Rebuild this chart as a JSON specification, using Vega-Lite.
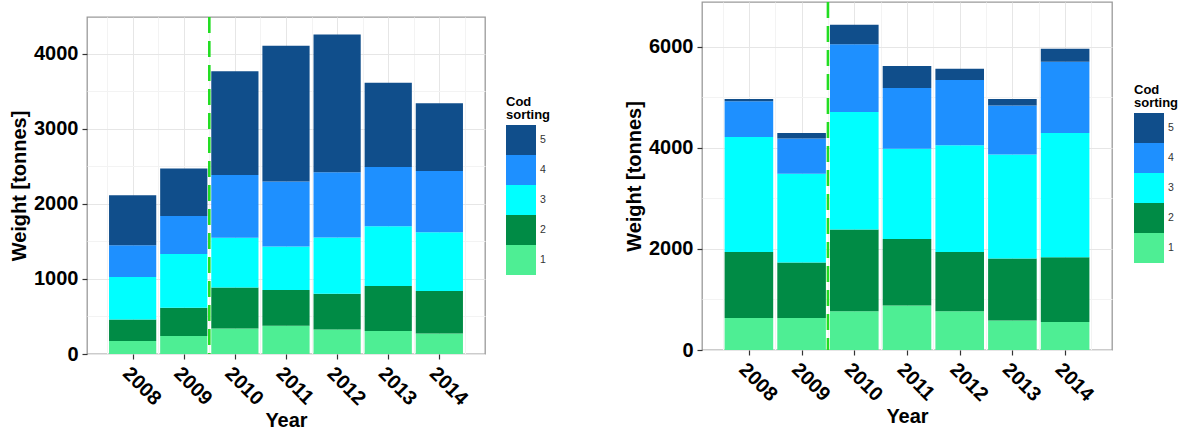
{
  "$schema": "https://vega.github.io/schema/vega-lite/v6.json",
  "background": "white",
  "padding": {"left": 8, "top": 0, "right": 0, "bottom": 0},
  "datasets": {
    "landings_a": [
      {"year": 2008, "sorting": 1, "weight": 173}, {"year": 2008, "sorting": 2, "weight": 287}, {"year": 2008, "sorting": 3, "weight": 565}, {"year": 2008, "sorting": 4, "weight": 425}, {"year": 2008, "sorting": 5, "weight": 666},
      {"year": 2009, "sorting": 1, "weight": 240}, {"year": 2009, "sorting": 2, "weight": 376}, {"year": 2009, "sorting": 3, "weight": 715}, {"year": 2009, "sorting": 4, "weight": 509}, {"year": 2009, "sorting": 5, "weight": 630},
      {"year": 2010, "sorting": 1, "weight": 341}, {"year": 2010, "sorting": 2, "weight": 545}, {"year": 2010, "sorting": 3, "weight": 662}, {"year": 2010, "sorting": 4, "weight": 838}, {"year": 2010, "sorting": 5, "weight": 1380},
      {"year": 2011, "sorting": 1, "weight": 377}, {"year": 2011, "sorting": 2, "weight": 475}, {"year": 2011, "sorting": 3, "weight": 580}, {"year": 2011, "sorting": 4, "weight": 865}, {"year": 2011, "sorting": 5, "weight": 1810},
      {"year": 2012, "sorting": 1, "weight": 327}, {"year": 2012, "sorting": 2, "weight": 475}, {"year": 2012, "sorting": 3, "weight": 750}, {"year": 2012, "sorting": 4, "weight": 870}, {"year": 2012, "sorting": 5, "weight": 1836},
      {"year": 2013, "sorting": 1, "weight": 306}, {"year": 2013, "sorting": 2, "weight": 599}, {"year": 2013, "sorting": 3, "weight": 798}, {"year": 2013, "sorting": 4, "weight": 789}, {"year": 2013, "sorting": 5, "weight": 1122},
      {"year": 2014, "sorting": 1, "weight": 274}, {"year": 2014, "sorting": 2, "weight": 564}, {"year": 2014, "sorting": 3, "weight": 785}, {"year": 2014, "sorting": 4, "weight": 816}, {"year": 2014, "sorting": 5, "weight": 901}
    ],
    "landings_b": [
      {"year": 2008, "sorting": 1, "weight": 634}, {"year": 2008, "sorting": 2, "weight": 1307}, {"year": 2008, "sorting": 3, "weight": 2271}, {"year": 2008, "sorting": 4, "weight": 707}, {"year": 2008, "sorting": 5, "weight": 45},
      {"year": 2009, "sorting": 1, "weight": 634}, {"year": 2009, "sorting": 2, "weight": 1097}, {"year": 2009, "sorting": 3, "weight": 1754}, {"year": 2009, "sorting": 4, "weight": 701}, {"year": 2009, "sorting": 5, "weight": 105},
      {"year": 2010, "sorting": 1, "weight": 766}, {"year": 2010, "sorting": 2, "weight": 1618}, {"year": 2010, "sorting": 3, "weight": 2323}, {"year": 2010, "sorting": 4, "weight": 1341}, {"year": 2010, "sorting": 5, "weight": 388},
      {"year": 2011, "sorting": 1, "weight": 879}, {"year": 2011, "sorting": 2, "weight": 1319}, {"year": 2011, "sorting": 3, "weight": 1782}, {"year": 2011, "sorting": 4, "weight": 1202}, {"year": 2011, "sorting": 5, "weight": 436},
      {"year": 2012, "sorting": 1, "weight": 766}, {"year": 2012, "sorting": 2, "weight": 1175}, {"year": 2012, "sorting": 3, "weight": 2112}, {"year": 2012, "sorting": 4, "weight": 1288}, {"year": 2012, "sorting": 5, "weight": 223},
      {"year": 2013, "sorting": 1, "weight": 582}, {"year": 2013, "sorting": 2, "weight": 1228}, {"year": 2013, "sorting": 3, "weight": 2059}, {"year": 2013, "sorting": 4, "weight": 970}, {"year": 2013, "sorting": 5, "weight": 125},
      {"year": 2014, "sorting": 1, "weight": 554}, {"year": 2014, "sorting": 2, "weight": 1282}, {"year": 2014, "sorting": 3, "weight": 2455}, {"year": 2014, "sorting": 4, "weight": 1412}, {"year": 2014, "sorting": 5, "weight": 257}
    ],
    "split": [{"year": 2009.5}],
    "blank": []
  },
  "spacing": 71,
  "hconcat": [
    {
      "spacing": 12,
      "resolve": {"legend": {"color": "independent"}, "scale": {"x": "independent", "y": "independent"}},
      "vconcat": [
        {
          "width": 398,
          "height": 1,
          "data": {"name": "blank"},
          "mark": "rule",
          "encoding": {},
          "view": {"stroke": null}
        },
        {
          "width": 398,
          "height": 337,
          "resolve": {"axis": {"x": "independent"}},
          "layer": [
            {
              "data": {"name": "landings_a"},
              "mark": {"type": "bar", "width": 47.2},
              "encoding": {
                "x": {
                  "field": "year", "type": "quantitative",
                  "scale": {"domain": [2007.205, 2014.795], "nice": false, "zero": false},
                  "axis": {"title": "Year", "format": "d", "values": [2008, 2009, 2010, 2011, 2012, 2013, 2014], "gridColor": "#e6e6e6"}
                },
                "y": {
                  "field": "weight", "type": "quantitative", "stack": "zero",
                  "scale": {"domain": [0, 4490], "nice": false},
                  "axis": {
                    "title": "Weight [tonnes]",
                    "values": [0, 500, 1000, 1500, 2000, 2500, 3000, 3500, 4000],
                    "labelExpr": "datum.value % 1000 ? '' : datum.label",
                    "format": "d",
                    "gridColor": {"condition": {"test": "datum.value % 1000 != 0", "value": "#f3f3f3"}, "value": "#e6e6e6"},
                    "tickOpacity": {"condition": {"test": "datum.value % 1000 != 0", "value": 0}, "value": 1}
                  }
                },
                "color": {
                  "field": "sorting", "type": "nominal",
                  "scale": {"domain": [5, 4, 3, 2, 1], "range": ["#104E8B", "#1E90FF", "#00FFFF", "#008B45", "#4EEE94"]},
                  "legend": {"orient": "none", "legendX": 419, "legendY": 79, "title": ["Cod", "sorting"]}
                },
                "order": {"field": "sorting", "type": "quantitative", "sort": "ascending"}
              }
            },
            {
              "data": {"name": "split"},
              "mark": {"type": "rule", "color": "#22dd22", "strokeWidth": 2.6, "strokeDash": [16, 8]},
              "encoding": {
                "x": {
                  "field": "year", "type": "quantitative",
                  "axis": {"title": null, "values": [2007.5, 2008.5, 2009.5, 2010.5, 2011.5, 2012.5, 2013.5, 2014.5], "labels": false, "ticks": false, "domain": false, "grid": true, "gridColor": "#f3f3f3"}
                }
              }
            }
          ]
        }
      ]
    },
    {
      "width": 410,
      "height": 348,
      "resolve": {"axis": {"x": "independent"}},
      "layer": [
        {
          "data": {"name": "landings_b"},
          "mark": {"type": "bar", "width": 48.6},
          "encoding": {
            "x": {
              "field": "year", "type": "quantitative",
              "scale": {"domain": [2007.205, 2014.795], "nice": false, "zero": false},
              "axis": {"title": "Year", "format": "d", "values": [2008, 2009, 2010, 2011, 2012, 2013, 2014], "gridColor": "#e6e6e6"}
            },
            "y": {
              "field": "weight", "type": "quantitative", "stack": "zero",
              "scale": {"domain": [0, 6885], "nice": false},
              "axis": {
                "title": "Weight [tonnes]",
                "values": [0, 1000, 2000, 3000, 4000, 5000, 6000],
                "labelExpr": "datum.value % 2000 ? '' : datum.label",
                "format": "d",
                "gridColor": {"condition": {"test": "datum.value % 2000 != 0", "value": "#f3f3f3"}, "value": "#e6e6e6"},
                "tickOpacity": {"condition": {"test": "datum.value % 2000 != 0", "value": 0}, "value": 1}
              }
            },
            "color": {
              "field": "sorting", "type": "nominal",
              "scale": {"domain": [5, 4, 3, 2, 1], "range": ["#104E8B", "#1E90FF", "#00FFFF", "#008B45", "#4EEE94"]},
              "legend": {"orient": "none", "legendX": 432, "legendY": 82, "title": ["Cod", "sorting"]}
            },
            "order": {"field": "sorting", "type": "quantitative", "sort": "ascending"}
          }
        },
        {
          "data": {"name": "split"},
          "mark": {"type": "rule", "color": "#22dd22", "strokeWidth": 2.6, "strokeDash": [16, 8]},
          "encoding": {
            "x": {
              "field": "year", "type": "quantitative",
              "axis": {"title": null, "values": [2007.5, 2008.5, 2009.5, 2010.5, 2011.5, 2012.5, 2013.5, 2014.5], "labels": false, "ticks": false, "domain": false, "grid": true, "gridColor": "#f3f3f3"}
            }
          }
        }
      ]
    }
  ],
  "resolve": {"scale": {"y": "independent", "x": "independent"}, "legend": {"color": "independent"}},
  "config": {
    "font": "Liberation Sans",
    "view": {"stroke": "#9a9a9a", "strokeWidth": 1.3},
    "axis": {
      "labelFontSize": 20, "labelFontWeight": "bold", "labelColor": "#000",
      "titleFontSize": 20, "titleFontWeight": "bold", "titleColor": "#000",
      "domain": false, "tickColor": "#333", "tickSize": 5, "tickWidth": 1.2,
      "gridWidth": 1, "labelFlush": false, "labelOverlap": false
    },
    "axisX": {"labelAngle": 45, "labelAlign": "left", "labelBaseline": "top", "labelPadding": 4, "titlePadding": 2},
    "axisY": {"labelPadding": 4, "titlePadding": 4},
    "legend": {
      "titleFontSize": 13, "titleFontWeight": "bold", "titleColor": "#000", "titleLineHeight": 13,
      "labelFontSize": 10.5, "labelColor": "#333", "labelOffset": 4,
      "symbolType": "square", "symbolSize": 900, "symbolStrokeWidth": 0, "symbolOpacity": 1,
      "rowPadding": 0, "titlePadding": 3, "padding": 0
    }
  }
}
